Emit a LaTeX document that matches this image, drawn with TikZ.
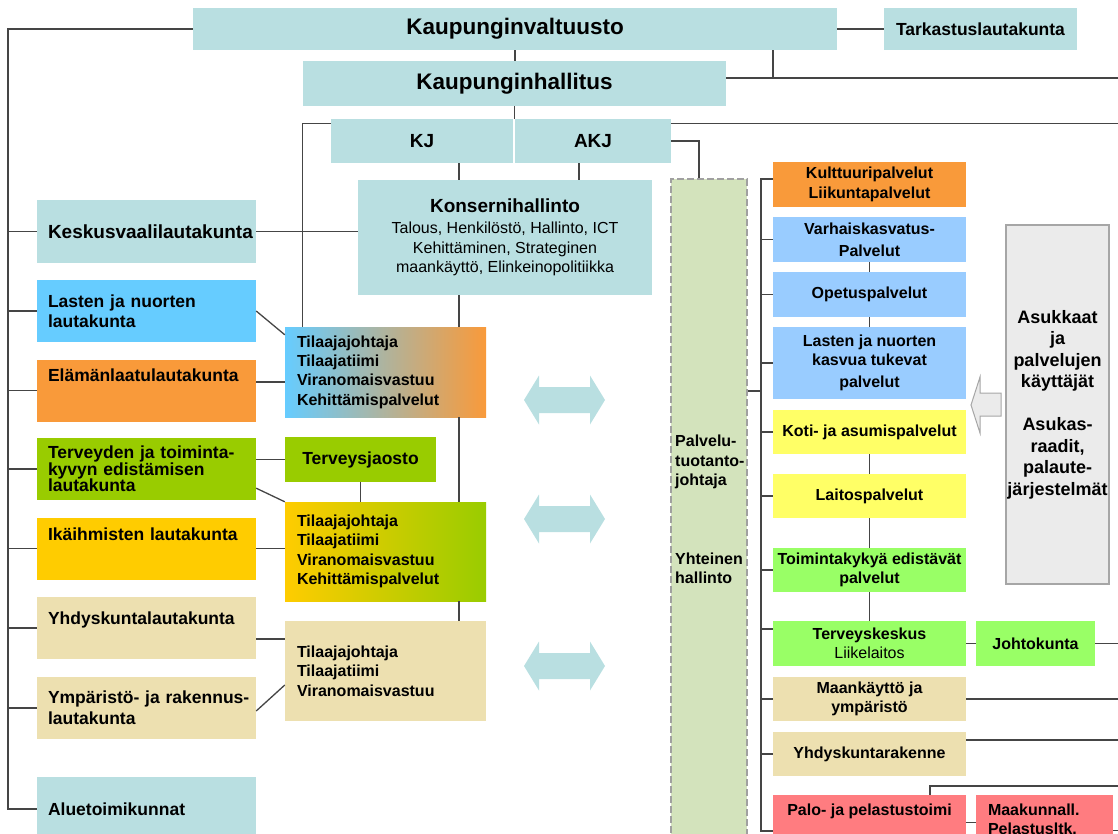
\documentclass[tikz,border=0pt]{standalone}
\usepackage{fontspec}
\setmainfont{Liberation Sans}
\usetikzlibrary{calc}

\definecolor{c-teal}{HTML}{B9DFE1}
\definecolor{c-sky}{HTML}{66CCFF}
\definecolor{c-pale}{HTML}{99CCFF}
\definecolor{c-orange}{HTML}{F99A3A}
\definecolor{c-mauve}{HTML}{D2AAAE}
\definecolor{c-olive}{HTML}{99CC00}
\definecolor{c-gold}{HTML}{FFCC00}
\definecolor{c-tan}{HTML}{EDE0B0}
\definecolor{c-lemon}{HTML}{FFFF66}
\definecolor{c-lime}{HTML}{99FF66}
\definecolor{c-red}{HTML}{FF7C80}
\definecolor{c-sage}{HTML}{D3E3BC}
\definecolor{c-dash}{HTML}{A0A0A0}
\definecolor{c-grey}{HTML}{EBEBEB}
\definecolor{c-frame}{HTML}{A6A6A6}
\definecolor{c-line}{HTML}{454545}

\begin{document}
\hyphenpenalty=10000
\begin{tikzpicture}[
    x=1pt, y=-1pt,
    box/.style={inner sep=0pt, align=center,
                font=\fontsize{16}{19.3}\selectfont\bfseries},
    bigfont/.style={font=\fontsize{22.5}{26}\selectfont\bfseries},
    midfont/.style={font=\fontsize{19}{22}\selectfont\bfseries},
    lfont/.style={font=\fontsize{17.5}{20}\selectfont\bfseries},
    lbox/.style={box, lfont, minimum height=62pt, text width=217pt,
                 inner xsep=1pt, align=left,
                 execute at begin node={\leftskip=10pt}},
    mbox/.style={box, text width=177pt, inner xsep=12pt, align=left},
    rbox/.style={box, minimum width=193pt, minimum height=44pt},
    toptext/.style 2 args={inner ysep=0pt, text height=#1, text depth=#2},
    conn/.style={draw=c-line, line width=1.3pt}
  ]
  \useasboundingbox (0,0) rectangle (1118,834);

  % top level
  \node[box, bigfont, fill=c-teal, minimum width=644pt, minimum height=42pt]
    (valt) at (515,29) {Kaupunginvaltuusto};
  \node[box, lfont, fill=c-teal, minimum width=193pt, minimum height=42pt]
    (tark) at (980.5,29) {Tarkastuslautakunta};
  \node[box, bigfont, fill=c-teal, minimum width=423pt, minimum height=45pt]
    (khall) at (514.5,83.5) {Kaupunginhallitus};
  \node[box, midfont, fill=c-teal, minimum width=182pt, minimum height=44pt]
    (kj) at (422,141) {KJ};
  \node[box, midfont, fill=c-teal, minimum width=156pt, minimum height=44pt]
    (akj) at (593,141) {AKJ};
  \node[box, fill=c-teal, minimum width=294pt, minimum height=115pt,
        font=\fontsize{16}{19.5}\selectfont]
    (kons) at (505,237.5)
    {{\fontsize{19}{22}\selectfont\bfseries Konsernihallinto}\\[2pt]
     Talous, Henkilöstö, Hallinto, ICT\\Kehittäminen, Strateginen\\
     maankäyttö, Elinkeinopolitiikka};

  % lautakunnat
  \node[lbox, midfont, fill=c-teal] (kesk) at (146.5,231.5) {Keskusvaalilautakunta};
  \node[lbox, fill=c-sky] (lnlk) at (146.5,311) {Lasten ja nuorten\\lautakunta};
  \node[lbox, fill=c-orange, toptext={22pt}{40pt}]
    (elama) at (146.5,390.5) {Elämänlaatulautakunta};
  \node[lbox, fill=c-olive, font=\fontsize{17.5}{16.5}\selectfont\bfseries]
    (terv) at (146.5,469) {Terveyden ja toiminta-\\kyvyn edistämisen\\lautakunta};
  \node[lbox, fill=c-gold, toptext={23pt}{39pt}]
    (ikai) at (146.5,548.5) {Ikäihmisten lautakunta};
  \node[lbox, fill=c-tan, toptext={27pt}{35pt}]
    (yhdlk) at (146.5,628) {Yhdyskuntalautakunta};
  \node[lbox, fill=c-tan, font=\fontsize{17.5}{21}\selectfont\bfseries]
    (ymp) at (146.5,708) {Ympäristö- ja rakennus-\\lautakunta};
  \node[lbox, fill=c-teal, minimum height=64pt] (alue) at (146.5,809) {Aluetoimikunnat};

  % tilaajat
  \node[mbox, left color=c-sky, middle color=c-mauve, right color=c-orange,
        minimum height=90pt] (tj1) at (385.5,372)
    {Tilaajajohtaja\\Tilaajatiimi\\Viranomaisvastuu\\Kehittämispalvelut};
  \node[box, lfont, fill=c-olive, minimum width=151pt, minimum height=45pt]
    (tsj) at (360.5,459.5) {Terveysjaosto};
  \node[mbox, left color=c-gold, right color=c-olive, minimum height=99pt]
    (tj2) at (385.5,551.5)
    {Tilaajajohtaja\\Tilaajatiimi\\Viranomaisvastuu\\Kehittämispalvelut};
  \node[mbox, fill=c-tan, minimum height=100pt] (tj3) at (385.5,671)
    {Tilaajajohtaja\\Tilaajatiimi\\Viranomaisvastuu};

  \foreach \yy in {400,519,666}
    \fill[c-teal] (524,\yy) -- ++(15,-24.5) -- ++(0,11.5) -- ++(51,0)
      -- ++(0,-11.5) -- ++(15,24.5) -- ++(-15,24.5) -- ++(0,-11.5)
      -- ++(-51,0) -- ++(0,11.5) -- cycle;

  % palvelutuotanto
  \node[draw=c-dash, dash pattern=on 7pt off 3pt, line width=1.2pt,
        fill=c-sage, inner sep=0pt,
        minimum width=76pt, minimum height=671pt] (palv) at (709,514.5) {};
  \node[box, anchor=west, align=left] (pjtxt) at (675,462) {Palvelu-\\tuotanto-\\johtaja};
  \node[box, anchor=west, align=left] (yhtxt) at (675,568.5) {Yhteinen\\hallinto};

  \node[rbox, fill=c-orange, minimum height=45pt] (kult) at (869.5,184.5)
    {Kulttuuripalvelut\\Liikuntapalvelut};
  \node[rbox, fill=c-pale, minimum height=45pt] (varh) at (869.5,239.5)
    {Varhaiskasvatus-\\[2.7pt]Palvelut};
  \node[rbox, fill=c-pale, minimum height=45pt] (opet) at (869.5,294.5) {Opetuspalvelut};
  \node[rbox, fill=c-pale, minimum height=72pt] (lnkt) at (869.5,363)
    {Lasten ja nuorten\\kasvua tukevat\\[2.7pt]palvelut};
  \node[rbox, fill=c-lemon] (koti) at (869.5,432) {Koti- ja asumispalvelut};
  \node[rbox, fill=c-lemon] (lait) at (869.5,496) {Laitospalvelut};
  \node[rbox, fill=c-lime] (toim) at (869.5,570) {Toimintakykyä edistävät\\palvelut};
  \node[rbox, fill=c-lime, minimum height=45pt] (tk) at (869.5,643.5)
    {Terveyskeskus\\{\mdseries Liikelaitos}};
  \node[rbox, fill=c-lime, minimum width=119pt, minimum height=45pt]
    (johto) at (1035.5,643.5) {Johtokunta};
  \node[rbox, fill=c-tan] (maan) at (869.5,699) {Maankäyttö ja\\ympäristö};
  \node[rbox, fill=c-tan] (yhdr) at (869.5,754) {Yhdyskuntarakenne};
  \node[rbox, fill=c-red, minimum height=55pt, toptext={20pt}{35pt}]
    (palo) at (869.5,822.5) {Palo- ja pelastustoimi};
  \node[rbox, fill=c-red, minimum width=137pt, minimum height=55pt,
        text width=113pt, inner xsep=12pt, align=left, toptext={20pt}{35pt}]
    (maak) at (1044.5,822.5) {Maakunnall.\\Pelastusltk.};

  % asukkaat
  \node[box, draw=c-frame, line width=1.5pt, fill=c-grey,
        minimum width=103pt, minimum height=359pt,
        font=\fontsize{18}{21.5}\selectfont\bfseries]
    (asuk) at (1057.5,404.5)
    {Asukkaat\\ja\\palvelujen\\käyttäjät\\[21.5pt]Asukas-\\raadit,\\palaute-\\järjestelmät};
  \draw[draw=c-frame, fill=c-grey, line width=1pt]
    (1001,393) -- (980,393) -- (980,377) -- (971,405) -- (980,433)
    -- (980,416) -- (1001,416) -- cycle;

  % connectors
  \coordinate (spine) at (8,29);
  \coordinate (edge) at (1118,0);
  \coordinate (mx) at (459,0);
  \coordinate (ax) at (579,0);
  \coordinate (khr) at (773,78);
  \coordinate (rb) at (761,179);
  \coordinate (rbb) at (761,831);
  \coordinate (tkw) at ([yshift=14.5pt]tk.west);
  \coordinate (pw) at ([yshift=123.5pt]palv.east);
  \coordinate (yre) at ([yshift=14pt]yhdr.east);
  \coordinate (pk) at (930,786);
  \coordinate (mke) at ([yshift=-8pt]maak.east);

  \draw[conn] (valt.west) -- (spine) -- (spine |- alue.west) -- (alue.west);
  \foreach \n in {kesk,lnlk,elama,terv,ikai,yhdlk,ymp}
    \draw[conn] (spine |- \n.west) -- (\n.west);
  \draw[conn] (valt.east) -- (tark.west);
  \draw[conn] (valt.south) -- (valt.south |- khall.north);
  \draw[conn] (valt.south -| khr) -- (khr);
  \draw[conn] (khall.east |- khr) -- (khr -| edge);
  \draw[conn] (khall.south) -- (khall.south |- kj.north);
  \draw[conn] ([yshift=-5pt]kj.north west) -| ([xshift=18pt]tj1.north west);
  \draw[conn] ([yshift=-5pt]akj.north east) -- ([yshift=-5pt]akj.north east -| edge);
  \draw[conn] (akj.east) -| ([xshift=-10pt]palv.north);
  \draw[conn] (kj.south -| mx) -- (kons.north -| mx);
  \draw[conn] (akj.south -| ax) -- (kons.north -| ax);
  \draw[conn] (kesk.east) -- (kesk.east -| kons.west);
  \draw[conn] (kons.south -| mx) -- (tj1.north -| mx);
  \draw[conn] (tj1.south -| mx) -- (tj2.north -| mx);
  \draw[conn] (tj2.south -| mx) -- (tj3.north -| mx);
  \draw[conn] (tsj.south) -- (tsj.south |- tj2.north);

  \draw[conn] (lnlk.east) -- ([yshift=-8pt]tj1.north west);
  \draw[conn] ([yshift=8.5pt]elama.east) -- ([yshift=8.5pt]elama.east -| tj1.west);
  \draw[conn] (tsj.west -| terv.east) -- (tsj.west);
  \draw[conn] ([yshift=12pt]terv.south east) -- (tj2.north west);
  \draw[conn] (ikai.east) -- (ikai.east -| tj2.west);
  \draw[conn] ([yshift=-11pt]yhdlk.east) -- ([yshift=-11pt]yhdlk.east -| tj3.west);
  \draw[conn] ([yshift=-3pt]ymp.east) -- ([yshift=-14pt]tj3.west);

  \draw[conn] (rb -| kult.west) -- (rb) -- (rbb) -- (rbb -| palo.west);
  \foreach \n in {varh,opet,lnkt,koti,lait,toim,maan,yhdr}
    \draw[conn] (rb |- \n.west) -- (\n.west);
  \draw[conn] (rb |- tkw) -- (tkw);
  \draw[conn] (pw) -- (pw -| rb);
  \foreach \a/\b in {varh/opet,opet/lnkt,koti/lait,lait/toim,toim/tk}
    \draw[conn] (\a.south) -- (\b.north);
  \draw[conn] (tk.east) -- (johto.west);
  \draw[conn] (johto.east) -- (johto.east -| edge);
  \draw[conn] (maan.east) -- (maan.east -| edge);
  \draw[conn] (yre) -- (yre -| edge);
  \draw[conn] (pk |- palo.north) -- (pk) -- (pk -| edge);
  \draw[conn] (palo.east) -- (maak.west);
  \draw[conn] (mke) -- (mke -| edge);
\end{tikzpicture}
\end{document}
